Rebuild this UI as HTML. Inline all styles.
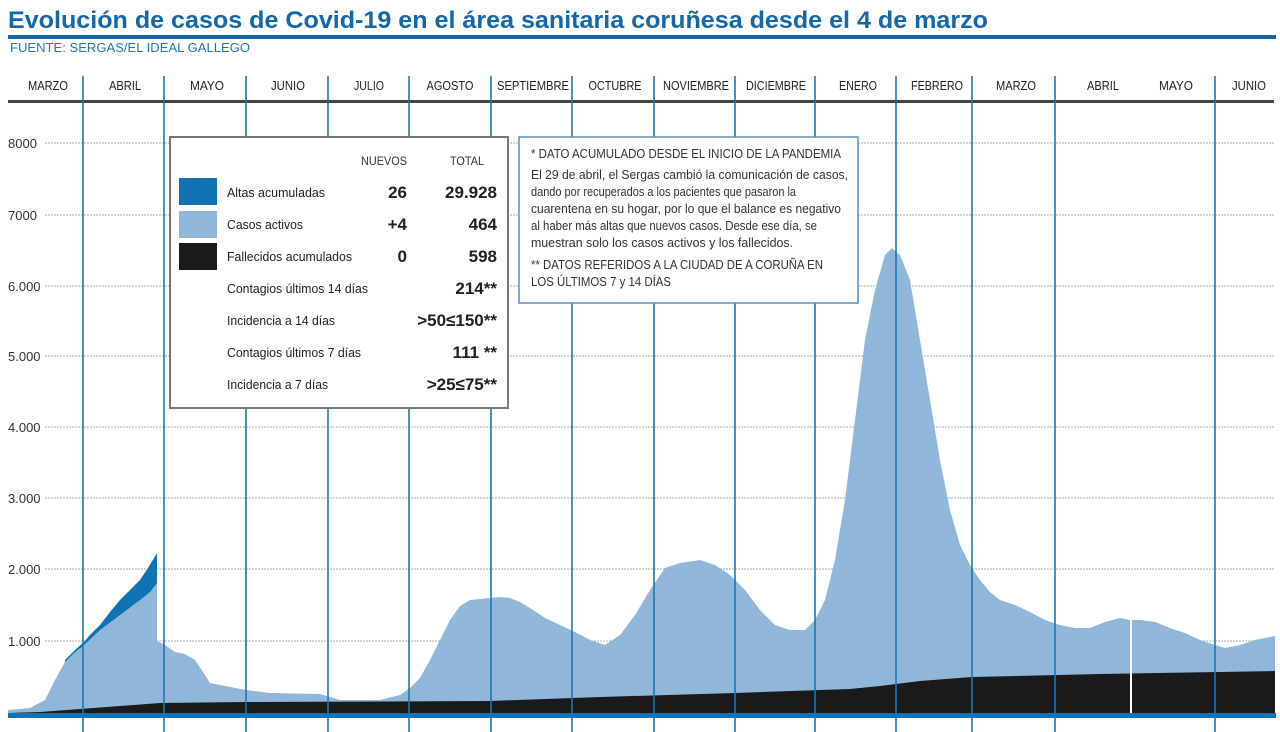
<!DOCTYPE html>
<html><head><meta charset="utf-8"><style>
body{margin:0;background:#fff;}
svg{display:block;}
text{font-family:"Liberation Sans",sans-serif;}
</style></head><body>
<svg width="1280" height="732" viewBox="0 0 1280 732" xmlns="http://www.w3.org/2000/svg">
<text x="8" y="28" font-weight="bold" font-size="24" fill="#1467a8" textLength="980" lengthAdjust="spacingAndGlyphs">Evolución de casos de Covid-19 en el área sanitaria coruñesa desde el 4 de marzo</text>
<rect x="8" y="35" width="1268" height="4" fill="#1467a8"/>
<text x="10" y="52" font-size="13" fill="#1e78b8" textLength="240" lengthAdjust="spacingAndGlyphs">FUENTE: SERGAS/EL IDEAL GALLEGO</text>
<g font-size="13" fill="#222" text-anchor="middle" lengthAdjust="spacingAndGlyphs">
<text x="48" y="90" textLength="40" lengthAdjust="spacingAndGlyphs">MARZO</text><text x="125" y="90" textLength="32" lengthAdjust="spacingAndGlyphs">ABRIL</text><text x="207" y="90" textLength="34" lengthAdjust="spacingAndGlyphs">MAYO</text><text x="288" y="90" textLength="34" lengthAdjust="spacingAndGlyphs">JUNIO</text><text x="369" y="90" textLength="30" lengthAdjust="spacingAndGlyphs">JULIO</text><text x="450" y="90" textLength="47" lengthAdjust="spacingAndGlyphs">AGOSTO</text><text x="533" y="90" textLength="72" lengthAdjust="spacingAndGlyphs">SEPTIEMBRE</text><text x="615" y="90" textLength="53" lengthAdjust="spacingAndGlyphs">OCTUBRE</text><text x="696" y="90" textLength="66" lengthAdjust="spacingAndGlyphs">NOVIEMBRE</text><text x="776" y="90" textLength="60" lengthAdjust="spacingAndGlyphs">DICIEMBRE</text><text x="858" y="90" textLength="38" lengthAdjust="spacingAndGlyphs">ENERO</text><text x="937" y="90" textLength="52" lengthAdjust="spacingAndGlyphs">FEBRERO</text><text x="1016" y="90" textLength="40" lengthAdjust="spacingAndGlyphs">MARZO</text><text x="1103" y="90" textLength="32" lengthAdjust="spacingAndGlyphs">ABRIL</text><text x="1176" y="90" textLength="34" lengthAdjust="spacingAndGlyphs">MAYO</text><text x="1249" y="90" textLength="34" lengthAdjust="spacingAndGlyphs">JUNIO</text>
</g>
<rect x="8" y="100" width="1266" height="3" fill="#444"/>
<g stroke="#aaa" stroke-width="1" stroke-dasharray="2,1">
<line x1="45" y1="143" x2="1275" y2="143"/><line x1="45" y1="215" x2="1275" y2="215"/><line x1="45" y1="286" x2="1275" y2="286"/><line x1="45" y1="356" x2="1275" y2="356"/><line x1="45" y1="427" x2="1275" y2="427"/><line x1="45" y1="498" x2="1275" y2="498"/><line x1="45" y1="569" x2="1275" y2="569"/><line x1="45" y1="641" x2="1275" y2="641"/>
</g>
<g font-size="13" fill="#333">
<text x="8" y="148">8000</text><text x="8" y="220">7000</text><text x="8" y="291">6.000</text><text x="8" y="361">5.000</text><text x="8" y="432">4.000</text><text x="8" y="503">3.000</text><text x="8" y="574">2.000</text><text x="8" y="646">1.000</text>
</g>
<polygon fill="#0f72b5" points="60,713 65,660 75,650 83,643 90,635 100,625 110,612 120,600 130,590 140,580 148,568 157,553 157,700 60,700"/>
<polygon fill="#90b7d9" points="8,713 8,710 30,708 45,700 55,680 65,662 75,652 83,646 100,630 120,615 140,600 150,592 157,583 157,641 165,645 175,652 185,654 195,660 205,675 210,683 230,687 246,690 270,693 320,694 330,697 340,700 380,700 400,695 410,688 420,678 430,660 440,640 450,620 460,606 470,600 490,598 500,597 510,598 520,602 530,608 545,618 560,625 575,632 590,640 605,645 620,635 635,615 650,590 665,568 680,563 700,560 715,565 730,575 745,590 760,610 775,625 790,630 805,630 815,620 825,600 835,560 845,500 855,420 865,340 875,290 885,255 892,248 900,255 910,280 920,340 930,400 940,460 950,510 960,545 970,565 980,580 990,592 1000,600 1015,605 1030,612 1045,620 1060,625 1075,628 1090,628 1105,622 1120,618 1130,620 1140,620 1155,622 1170,628 1185,633 1200,640 1215,645 1225,648 1240,645 1255,640 1275,636 1275,713"/>
<polygon fill="#1a1a1d" points="8,713 40,712 80,709 120,706 160,703 246,702 490,701 600,697 735,693 850,689 880,686 920,681 972,677 1100,674 1275,671 1275,713"/>
<line x1="1131" y1="618" x2="1131" y2="713" stroke="#fff" stroke-width="2"/>
<rect x="8" y="713" width="1268" height="5" fill="#0f72b5"/>
<g stroke="#1d75b3" stroke-width="1.6">
<line x1="83" y1="76" x2="83" y2="732"/><line x1="164" y1="76" x2="164" y2="732"/><line x1="246" y1="76" x2="246" y2="732"/><line x1="328" y1="76" x2="328" y2="732"/><line x1="409" y1="76" x2="409" y2="732"/><line x1="491" y1="76" x2="491" y2="732"/><line x1="572" y1="76" x2="572" y2="732"/><line x1="654" y1="76" x2="654" y2="732"/><line x1="735" y1="76" x2="735" y2="732"/><line x1="815" y1="76" x2="815" y2="732"/><line x1="896" y1="76" x2="896" y2="732"/><line x1="972" y1="76" x2="972" y2="732"/><line x1="1055" y1="76" x2="1055" y2="732"/><line x1="1215" y1="76" x2="1215" y2="732"/>
</g>
<rect x="170" y="137" width="338" height="271" fill="#fff" stroke="#777" stroke-width="2"/>
<text x="384" y="165" font-size="12" fill="#333" text-anchor="middle" textLength="46" lengthAdjust="spacingAndGlyphs">NUEVOS</text>
<text x="467" y="165" font-size="12" fill="#333" text-anchor="middle" textLength="34" lengthAdjust="spacingAndGlyphs">TOTAL</text>
<rect x="179" y="178" width="38" height="27" fill="#0f72b5"/>
<rect x="179" y="211" width="38" height="27" fill="#90b7d9"/>
<rect x="179" y="243" width="38" height="27" fill="#1a1a1d"/>
<g font-size="13" fill="#222">
<text x="227" y="197" textLength="98" lengthAdjust="spacingAndGlyphs">Altas acumuladas</text>
<text x="227" y="229" textLength="76" lengthAdjust="spacingAndGlyphs">Casos activos</text>
<text x="227" y="261" textLength="125" lengthAdjust="spacingAndGlyphs">Fallecidos acumulados</text>
<text x="227" y="293" textLength="141" lengthAdjust="spacingAndGlyphs">Contagios últimos 14 días</text>
<text x="227" y="325" textLength="108" lengthAdjust="spacingAndGlyphs">Incidencia a 14 días</text>
<text x="227" y="357" textLength="134" lengthAdjust="spacingAndGlyphs">Contagios últimos 7 días</text>
<text x="227" y="389" textLength="101" lengthAdjust="spacingAndGlyphs">Incidencia a 7 días</text>
</g>
<g font-size="17" font-weight="bold" fill="#222" text-anchor="end">
<text x="407" y="198">26</text><text x="497" y="198">29.928</text>
<text x="407" y="230">+4</text><text x="497" y="230">464</text>
<text x="407" y="262">0</text><text x="497" y="262">598</text>
<text x="497" y="294">214**</text>
<text x="497" y="326">&gt;50≤150**</text>
<text x="497" y="358">111 **</text>
<text x="497" y="390">&gt;25≤75**</text>
</g>
<rect x="519" y="137" width="339" height="166" fill="#fff" stroke="#5a8fc0" stroke-width="1.5"/>
<g font-size="12.5" fill="#333">
<text x="531" y="158" textLength="310" lengthAdjust="spacingAndGlyphs">* DATO ACUMULADO DESDE EL INICIO DE LA PANDEMIA</text>
<text x="531" y="179" textLength="317" lengthAdjust="spacingAndGlyphs">El 29 de abril, el Sergas cambió la comunicación de casos,</text>
<text x="531" y="196" textLength="265" lengthAdjust="spacingAndGlyphs">dando por recuperados a los pacientes que pasaron la</text>
<text x="531" y="213" textLength="310" lengthAdjust="spacingAndGlyphs">cuarentena en su hogar, por lo que el balance es negativo</text>
<text x="531" y="230" textLength="286" lengthAdjust="spacingAndGlyphs">al haber más altas que nuevos casos. Desde ese día, se</text>
<text x="531" y="247" textLength="262" lengthAdjust="spacingAndGlyphs">muestran solo los casos activos y los fallecidos.</text>
<text x="531" y="269" textLength="292" lengthAdjust="spacingAndGlyphs">** DATOS REFERIDOS A LA CIUDAD DE A CORUÑA EN</text>
<text x="531" y="286" textLength="140" lengthAdjust="spacingAndGlyphs">LOS ÚLTIMOS 7 y 14 DÍAS</text>
</g>
</svg>
</body></html>
